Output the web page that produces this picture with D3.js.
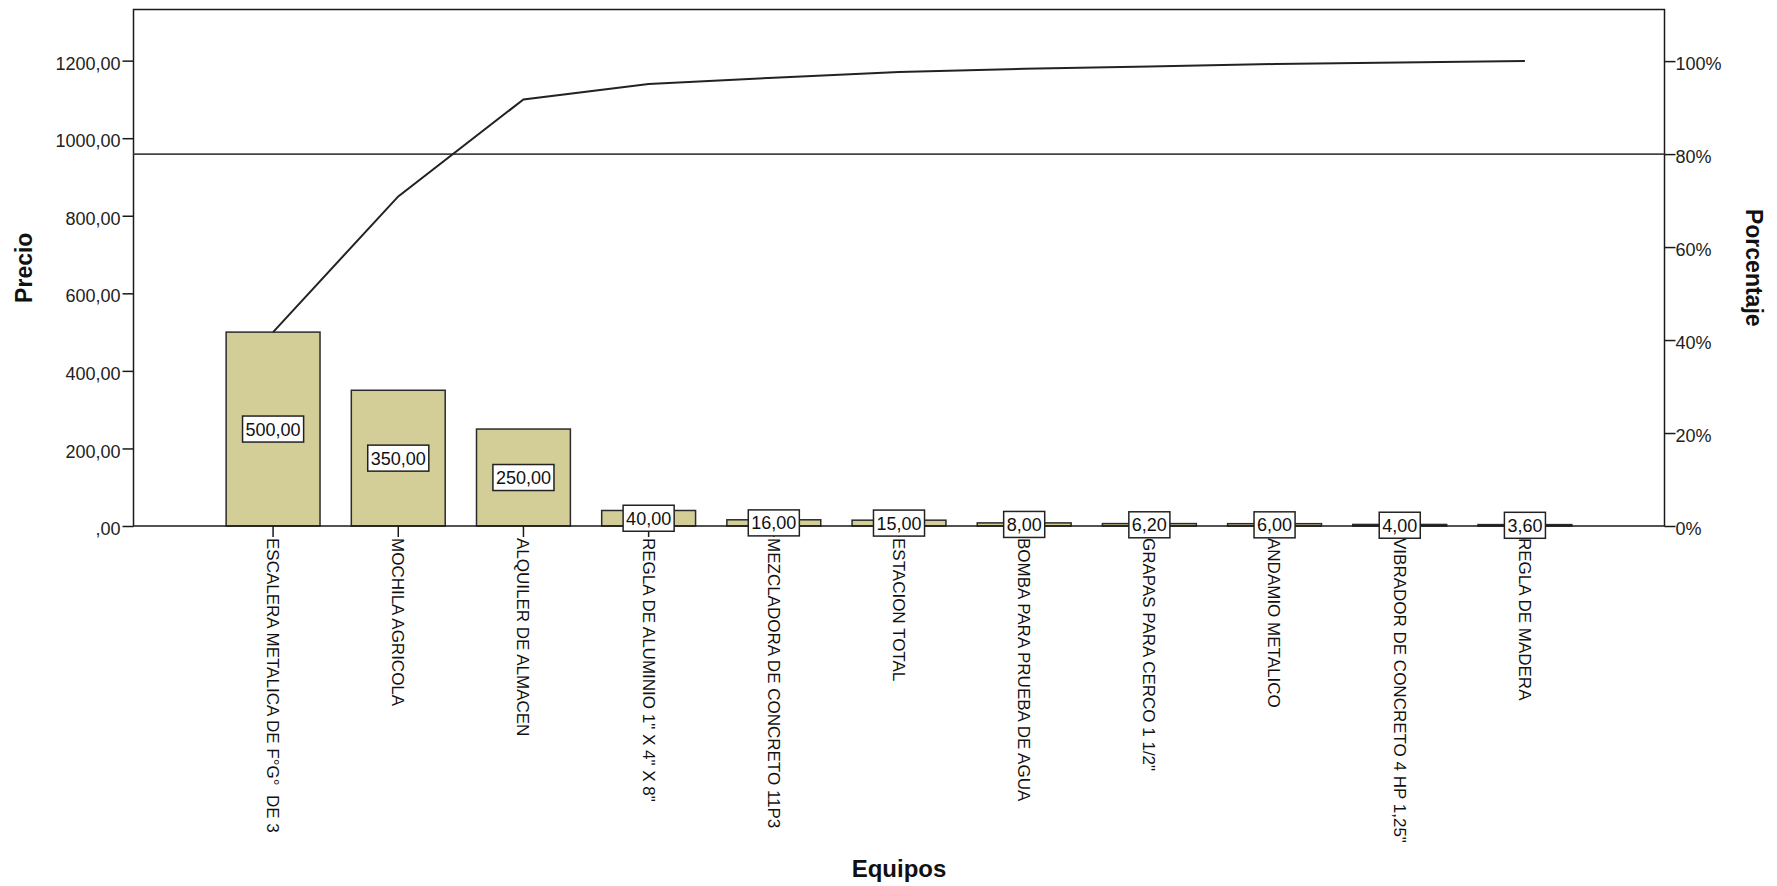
<!DOCTYPE html>
<html>
<head>
<meta charset="utf-8">
<script src="https://cdn.jsdelivr.net/npm/d3@7/dist/d3.min.js"></script>
<style>
  html, body { margin: 0; padding: 0; background: #fff; }
  svg { display: block; font-family: "Liberation Sans", Arial, sans-serif; }
</style>
</head>
<body>
<svg id="chart" width="1777" height="886"></svg>
<script>
const categories = [
  "ESCALERA METALICA DE F°G°  DE 3",
  "MOCHILA AGRICOLA",
  "ALQUILER DE ALMACEN",
  "REGLA DE ALUMINIO 1\" X 4\" X 8\"",
  "MEZCLADORA DE CONCRETO 11P3",
  "ESTACION TOTAL",
  "BOMBA PARA PRUEBA DE AGUA",
  "GRAPAS PARA CERCO 1 1/2\"",
  "ANDAMIO METALICO",
  "VIBRADOR DE CONCRETO 4 HP 1,25\"",
  "REGLA DE MADERA"
];
const values = [500, 350, 250, 40, 16, 15, 8, 6.2, 6, 4, 3.6];
const leftTicks = [0, 200, 400, 600, 800, 1000, 1200];
const rightTicks = [0, 20, 40, 60, 80, 100];
const thresholdPct = 80;
const yTitle = "Precio";
const y2Title = "Porcentaje";
const xTitle = "Equipos";

const svg = d3.select("#chart");
const plot = { left: 133.5, right: 1664.5, top: 9.5, bottom: 526 };

const total = d3.sum(values);
const cumulative = d3.cumsum(values);
const yMax = total * 1.111;

const x = d3.scaleBand().domain(categories)
  .range([plot.left, plot.right]).paddingInner(0.25).paddingOuter(0.74);
const y = d3.scaleLinear().domain([0, yMax]).range([plot.bottom, plot.top]);
const yPct = d3.scaleLinear().domain([0, yMax / total * 100]).range([plot.bottom, plot.top]);

const fmt = v => { let s = d3.format(".2f")(v).replace(".", ","); if (s.startsWith("0,")) s = s.slice(1); return s; };

// bars
svg.append("g").selectAll("rect").data(values).join("rect")
  .attr("x", (d, i) => x(categories[i]))
  .attr("y", d => y(d))
  .attr("width", x.bandwidth())
  .attr("height", d => plot.bottom - y(d))
  .attr("fill", "#d3ce97")
  .attr("stroke", "#2b2b2b")
  .attr("stroke-width", 1.5);

// frame
svg.append("rect")
  .attr("x", plot.left).attr("y", plot.top)
  .attr("width", plot.right - plot.left).attr("height", plot.bottom - plot.top)
  .attr("fill", "none").attr("stroke", "#1a1a1a").attr("stroke-width", 1.5);

// 80% line
svg.append("line")
  .attr("x1", plot.left).attr("x2", plot.right)
  .attr("y1", yPct(thresholdPct)).attr("y2", yPct(thresholdPct))
  .attr("stroke", "#444").attr("stroke-width", 1.8);

// cumulative line
const line = d3.line().x((d, i) => x(categories[i]) + x.bandwidth() / 2).y(d => y(d));
svg.append("path").datum(cumulative)
  .attr("d", line).attr("fill", "none")
  .attr("stroke", "#222").attr("stroke-width", 2);

// left axis
const gl = svg.append("g").attr("transform", `translate(${plot.left},0)`)
  .call(d3.axisLeft(y).tickValues(leftTicks).tickSize(11).tickPadding(2).tickFormat(fmt));
gl.select(".domain").remove();
gl.selectAll("line").attr("stroke", "#1a1a1a").attr("stroke-width", 1.5);
gl.selectAll("text").attr("font-size", 18).attr("fill", "#222").attr("dy", "0.48em")
  .attr("font-family", "Liberation Sans, Arial, sans-serif");

// right axis
const gr = svg.append("g").attr("transform", `translate(${plot.right},0)`)
  .call(d3.axisRight(yPct).tickValues(rightTicks).tickSize(11).tickPadding(0).tickFormat(d => d + "%"));
gr.select(".domain").remove();
gr.selectAll("line").attr("stroke", "#1a1a1a").attr("stroke-width", 1.5);
gr.selectAll("text").attr("font-size", 18).attr("fill", "#222").attr("dy", "0.48em")
  .attr("font-family", "Liberation Sans, Arial, sans-serif");

// bottom axis
const gb = svg.append("g").attr("transform", `translate(0,${plot.bottom})`)
  .call(d3.axisBottom(x).tickSize(11).tickPadding(0));
gb.select(".domain").remove();
gb.selectAll("line").attr("stroke", "#1a1a1a").attr("stroke-width", 1.5);
gb.selectAll("text")
  .attr("font-size", 17).attr("fill", "#111")
  .attr("font-family", "Liberation Sans, Arial, sans-serif")
  .style("white-space", "pre")
  .attr("text-anchor", "start")
  .attr("transform", "rotate(90)")
  .attr("x", 12).attr("y", 0).attr("dy", "0.36em");

// value labels
const lbl = svg.append("g").selectAll("g").data(values).join("g")
  .attr("transform", (d, i) => `translate(${x(categories[i]) + x.bandwidth() / 2},${(y(d) + plot.bottom) / 2})`);
lbl.each(function (d) {
  const g = d3.select(this);
  const t = g.append("text").text(fmt(d))
    .attr("font-size", 18).attr("text-anchor", "middle").attr("dy", "0.36em").attr("fill", "#111");
  const bb = t.node().getBBox();
  g.insert("rect", "text")
    .attr("x", -bb.width / 2 - 3).attr("y", -13)
    .attr("width", bb.width + 6).attr("height", 26)
    .attr("fill", "#fff").attr("stroke", "#222").attr("stroke-width", 1.5);
});

// titles
svg.append("text").text(yTitle)
  .attr("transform", `translate(32,${(plot.top + plot.bottom) / 2}) rotate(-90)`)
  .attr("text-anchor", "middle").attr("font-weight", "bold").attr("font-size", 23).attr("fill", "#111");
svg.append("text").text(y2Title)
  .attr("transform", `translate(1746,${(plot.top + plot.bottom) / 2}) rotate(90)`)
  .attr("text-anchor", "middle").attr("font-weight", "bold").attr("font-size", 23).attr("fill", "#111");
svg.append("text").text(xTitle)
  .attr("x", (plot.left + plot.right) / 2).attr("y", 877)
  .attr("text-anchor", "middle").attr("font-weight", "bold").attr("font-size", 24).attr("fill", "#111");
</script>
</body>
</html>
